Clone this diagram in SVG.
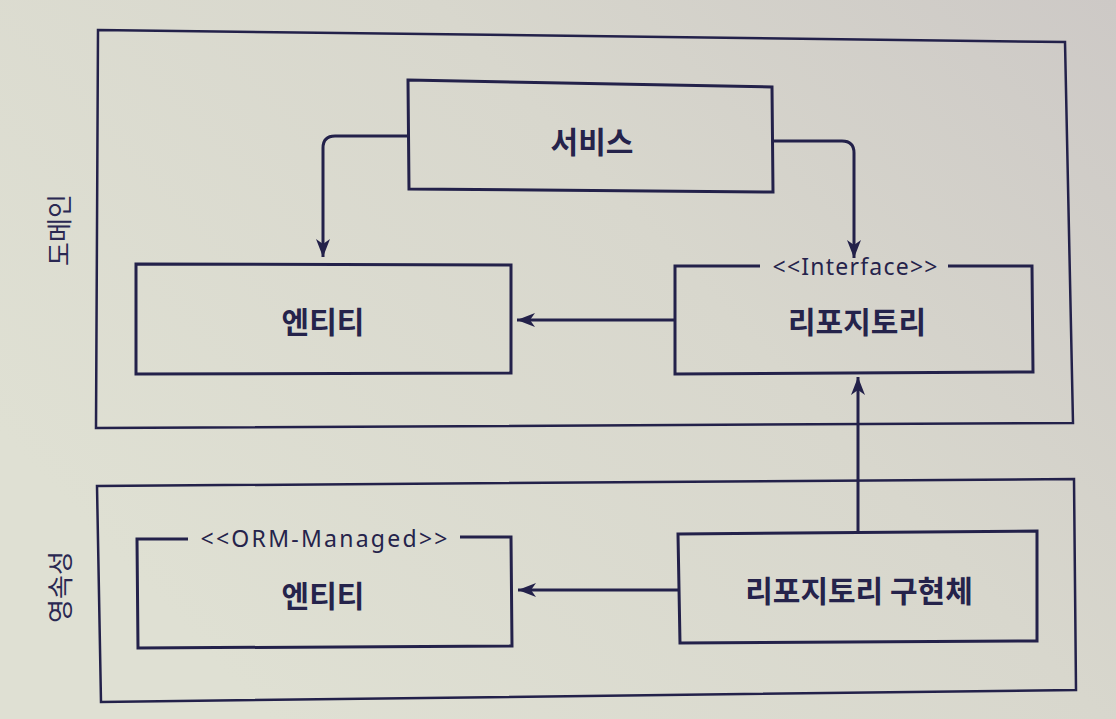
<svg xmlns="http://www.w3.org/2000/svg" width="1116" height="719" viewBox="0 0 1116 719">
  <defs>
    <linearGradient id="bg" x1="0" y1="0.6" x2="1" y2="0">
      <stop offset="0" stop-color="#dfe0d3"/>
      <stop offset="0.55" stop-color="#d8d7cd"/>
      <stop offset="1" stop-color="#cdc9c6"/>
    </linearGradient>
    <marker id="arrow" markerUnits="userSpaceOnUse" markerWidth="20" markerHeight="16" viewBox="0 0 20 16" refX="18" refY="8" orient="auto">
      <path d="M0,1 L18,8 L0,15 L5,8 Z" fill="#23214a"/>
    </marker>
    <style>
      .frame { fill: none; stroke: #23214a; stroke-width: 2.5; stroke-linejoin: miter; }
      .box { fill: none; stroke: #23214a; stroke-width: 3; stroke-linejoin: miter; }
      .conn { fill: none; stroke: #23214a; stroke-width: 3; marker-end: url(#arrow); }
      .label { font-family: "Noto Sans CJK KR", "Noto Sans", sans-serif; font-size: 30px; font-weight: 700; fill: #25234b; text-anchor: middle; dominant-baseline: central; }
      .stereo { font-family: "Noto Sans", "Noto Sans CJK KR", sans-serif; font-size: 23px; fill: #25234b; text-anchor: middle; dominant-baseline: central; }
      .side { font-family: "Noto Sans CJK KR", "Noto Sans", sans-serif; font-size: 26px; fill: #2a2852; text-anchor: middle; dominant-baseline: central; }
    </style>
  </defs>
  <rect width="1116" height="719" fill="url(#bg)"/>

  <g id="domain-layer">
    <path class="frame" d="M98,30 L1065,42 L1073,423 L96,428 Z"/>
    <text class="side" transform="translate(57,230) rotate(-90)">도메인</text>
  </g>

  <g id="persistence-layer">
    <path class="frame" d="M97,486 L1074,479 L1076,690 L101,702 Z"/>
    <text class="side" transform="translate(58,587) rotate(-90)">영속성</text>
  </g>

  <g id="service">
    <path class="box" d="M408,80 L772,87 L773,192 L409,189 Z"/>
    <text class="label" x="592" y="140">서비스</text>
  </g>

  <g id="entity">
    <path class="box" d="M136,264 L511,265 L511,373 L136,374 Z"/>
    <text class="label" x="323" y="320">엔티티</text>
  </g>

  <g id="repository">
    <path class="box" d="M760,266 L675,266 L675,374 L1033,372 L1032,266 L948,266"/>
    <text class="stereo" x="855" y="266" textLength="165" lengthAdjust="spacing">&lt;&lt;Interface&gt;&gt;</text>
    <text class="label" x="857" y="320">리포지토리</text>
  </g>

  <g id="orm-entity">
    <path class="box" d="M188,539 L137,539 L138,648 L512,646 L511,537 L460,537"/>
    <text class="stereo" x="324" y="538" textLength="247" lengthAdjust="spacing">&lt;&lt;ORM-Managed&gt;&gt;</text>
    <text class="label" x="323" y="594">엔티티</text>
  </g>

  <g id="repository-impl">
    <path class="box" d="M678,534 L1037,531 L1037,641 L680,643 Z"/>
    <text class="label" x="859" y="589">리포지토리 구현체</text>
  </g>

  <g id="connectors">
    <path class="conn" d="M408,136 L335,136 Q323,136 323,148 L323,257"/>
    <path class="conn" d="M772,141 L842,141 Q854,141 854,153 L854,258"/>
    <path class="conn" d="M675,320 L517,320"/>
    <path class="conn" d="M858,531 L858,377"/>
    <path class="conn" d="M678,590 L518,590"/>
  </g>
</svg>
